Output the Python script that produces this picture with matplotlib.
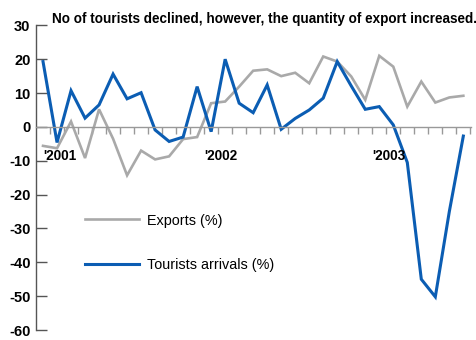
import matplotlib.pyplot as plt
from matplotlib.ticker import FixedLocator, NullFormatter

plt.rcParams['font.family'] = ['Liberation Sans', 'DejaVu Sans']

# monthly growth rates, Jan 2001 - Jul 2003
months = list(range(31))
exports = [-5.6, -6.3, 1.6, -9.2, 5.2, -3.5, -14.3, -7.0, -9.6, -8.7, -3.6, -3.0,
           7.0, 7.5, 11.9, 16.6, 17.0, 15.0, 16.0, 12.9, 20.8, 19.3, 14.9, 8.0,
           21.0, 17.8, 6.0, 13.4, 7.2, 8.7, 9.2]
tourists = [19.3, -4.6, 10.7, 2.6, 6.5, 15.6, 8.3, 10.1, -0.9, -4.3, -3.0, 11.9,
            -1.4, 20.0, 7.0, 4.2, 12.4, -0.7, 2.5, 5.0, 8.5, 19.3, 12.1, 5.2,
            6.0, 0.6, -10.5, -45.0, -50.2, -25.0, -2.7]
year_labels = ["'2001", "'2002", "'2003"]
year_pos = [0.0, 11.5, 23.5]

grey = '#a9a9a9'
blue = '#0b5db3'

fig = plt.figure(figsize=(4.77, 3.40), dpi=100)
ax = fig.add_axes([0.0755, 0.0294, 0.912, 0.896])

ax.plot(months, exports, color=grey, lw=1.9, label='Exports (%)', solid_joinstyle='miter')
ax.plot(months, tourists, color=blue, lw=2.2, label='Tourists arrivals (%)', solid_joinstyle='miter')

ax.set_xlim(-0.5, 30.55)
ax.set_ylim(-60, 30)

for s in ['top', 'right']:
    ax.spines[s].set_visible(False)
ax.spines['left'].set_color('#555555')
ax.spines['left'].set_linewidth(1.0)
ax.spines['bottom'].set_position(('data', 0))
ax.spines['bottom'].set_color('#999999')
ax.spines['bottom'].set_linewidth(1.0)

ax.set_yticks(range(-60, 31, 10))
ax.set_yticklabels([str(v) for v in range(-60, 31, 10)])
ax.tick_params(axis='y', direction='in', length=8, width=1.0, color='#555555',
               pad=4, labelsize=10.5)
ax.xaxis.set_major_locator(FixedLocator([m + 0.5 for m in months]))
ax.xaxis.set_major_formatter(NullFormatter())
ax.tick_params(axis='x', direction='out', length=5, width=1.0, color='#999999')
for lab in ax.get_yticklabels():
    lab.set_fontweight('bold')

for p, t in zip(year_pos, year_labels):
    ax.text(p, -8.5, t, ha='left', va='center', fontsize=9.8, fontweight='bold')

ax.legend(loc='upper left', bbox_to_anchor=(0.083, 0.425), frameon=False,
          handlelength=3.7, handletextpad=0.55, labelspacing=2.1, fontsize=10.4)

fig.text(0.109, 0.945, 'No of tourists declined, however, the quantity of export increased.',
         ha='left', va='center', fontsize=9.75, fontweight='bold')

plt.savefig('out.png', dpi=100)
